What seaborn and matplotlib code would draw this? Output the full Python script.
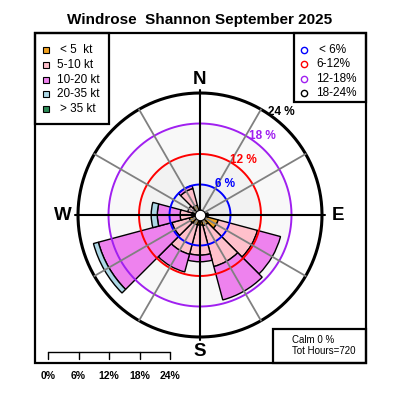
import numpy as np
import matplotlib
matplotlib.use("Agg")
import matplotlib.pyplot as plt
import seaborn as sns

# ---------------- data (percent of hours) ----------------
directions = [0, 30, 60, 90, 120, 150, 180, 210, 240, 270, 300, 330]
speed_classes = ["< 5  kt", "5-10 kt", "10-20 kt", "20-35 kt", "> 35 kt"]
lt5 = [0.8, 0.5, 0.5, 1.2, 3.7, 2.2, 2.0, 2.0, 2.2, 1.6, 1.5, 2.0]
s5_10 = [0.2, 0.0, 0.0, 0.4, 8.0, 8.3, 5.9, 6.0, 3.5, 2.3, 1.0, 3.4]
s10_20 = [0.0, 0.0, 0.0, 0.0, 4.7, 6.8, 1.3, 3.6, 15.0, 4.5, 0.0, 0.6]
s20_35 = [0.0, 0.0, 0.0, 0.0, 0.0, 0.0, 0.0, 0.0, 1.0, 1.2, 0.0, 0.0]
gt35 = [0.0] * 12
speed_colors = ["#F0A020", "#FFC0CB", "#EE82EE", "#ADD8E6", "#2E8B57"]

rings = [6, 12, 18, 24]
ring_labels = ["6 %", "12 %", "18 %", "24 %"]
ring_legend = ["< 6%", "6-12%", "12-18%", "18-24%"]
ring_colors = ["#0000FF", "#FF0000", "#A020F0", "#000000"]
ring_fill = ["#ebebeb", "#f2f2f2", "#f8f8f8", "#ffffff"]
scale_ticks = [0, 6, 12, 18, 24]
calm_pct = 0
tot_hours = 720

# ---------------- figure ----------------
sns.set_theme(style="white")
plt.rcParams['font.family'] = ['Liberation Sans', 'DejaVu Sans']
plt.rcParams['text.color'] = 'black'

fig = plt.figure(figsize=(4, 4), dpi=100)
ov = fig.add_axes([0, 0, 1, 1])
ov.set_xlim(0, 400)
ov.set_ylim(400, 0)
ov.axis("off")

cx, cy = 200, 215
px_pct = 122 / 24.0
rmax = 25.0
R = rmax * px_pct
pax = fig.add_axes([(cx - R) / 400, (400 - cy - R) / 400, 2 * R / 400, 2 * R / 400],
                   projection="polar")
pax.set_theta_zero_location("N")
pax.set_theta_direction(-1)
pax.set_ylim(0, rmax)
pax.grid(False)
pax.set_xticks([])
pax.set_yticks([])
pax.spines["polar"].set_visible(False)
pax.patch.set_alpha(0)

# background rings
prev = 0
for r, c in zip(rings, ring_fill):
    pax.bar(0, r - prev, width=2 * np.pi, bottom=prev, color=c, edgecolor="none", zorder=0)
    prev = r

# stacked bars
theta = np.deg2rad(directions)
width = np.deg2rad(30)
bottom = np.zeros(len(directions))
for vals, col in zip([lt5, s5_10, s10_20, s20_35, gt35], speed_colors):
    vals = np.array(vals)
    m = vals > 0
    pax.bar(theta[m], vals[m], width=width, bottom=bottom[m], color=col,
            edgecolor="black", linewidth=1.0, zorder=2)
    bottom += vals

# rings
tt = np.linspace(0, 2 * np.pi, 400)
for r, c in zip(rings, ring_colors):
    pax.plot(tt, np.full_like(tt, r), color=c, lw=2.2 if r == 24 else 1.4, zorder=3)

# radial lines
for d in range(0, 360, 30):
    if d % 90 == 0:
        pax.plot([np.deg2rad(d)] * 2, [0, 24.6], color="black", lw=1.5, zorder=4)
    else:
        pax.plot([np.deg2rad(d)] * 2, [0, 24], color="#808080", lw=1.3, zorder=4)

pax.plot(0, 0, "o", ms=7.5, mfc="white", mec="black", mew=0.8, zorder=5)

# ring labels
for r, lab, c in zip(rings, ring_labels, ring_colors):
    pax.text(np.deg2rad(38.5), r + 1.8, lab, color=c, fontsize=8.5, fontweight="bold",
             ha="center", va="center", zorder=6)

# direction labels
for lab, (x, y) in zip(["N", "E", "S", "W"], [(200, 79), (338, 215), (200, 352), (63, 215)]):
    ov.text(x, y, lab, fontsize=13.5, fontweight="bold", ha="center", va="center", color="black")

ov.text(200, 20, "Windrose  Shannon September 2025", fontsize=11, fontweight="bold",
        ha="center", va="center", color="black")

# frame and boxes
lw_box = 1.6
ov.add_patch(plt.Rectangle((35, 33), 331, 330, fill=False, lw=lw_box, ec="black"))
ov.add_patch(plt.Rectangle((35, 33), 74, 91, fill=False, lw=lw_box, ec="black"))
ov.add_patch(plt.Rectangle((294, 33), 72, 69, fill=False, lw=lw_box, ec="black"))
ov.add_patch(plt.Rectangle((273, 329), 93, 34, fill=False, lw=lw_box, ec="black"))

# speed legend
for i, (lab, col) in enumerate(zip(speed_classes, speed_colors)):
    y = 50 + i * 14.8
    ov.plot(46, y, "s", ms=4.5, mfc=col, mec="black", mew=0.8)
    ov.text(57 if i not in (0, 4) else 60, y, lab, fontsize=8.5, ha="left", va="center")

# ring legend
for i, (lab, col) in enumerate(zip(ring_legend, ring_colors)):
    y = 50 + i * 14.3
    ov.plot(304, y, "o", ms=4.5, mfc="none", mec=col, mew=1.0)
    ov.text(316 if i else 319, y, lab, fontsize=8.5, ha="left", va="center")

# calm box
ov.text(292, 340, f"Calm {calm_pct} %", fontsize=7, ha="left", va="center")
ov.text(292, 351, f"Tot Hours={tot_hours}", fontsize=7, ha="left", va="center")

# scale bar
x0 = 48
xs = [x0 + t * px_pct for t in scale_ticks]
ov.plot([xs[0], xs[-1]], [352, 352], color="black", lw=1.0)
for x, t in zip(xs, scale_ticks):
    ov.plot([x, x], [352, 359], color="black", lw=1.0)
    ov.text(x, 376, f"{t}%", fontsize=7.5, fontweight="bold", ha="center", va="center")

fig.savefig("out.png", dpi=100)
